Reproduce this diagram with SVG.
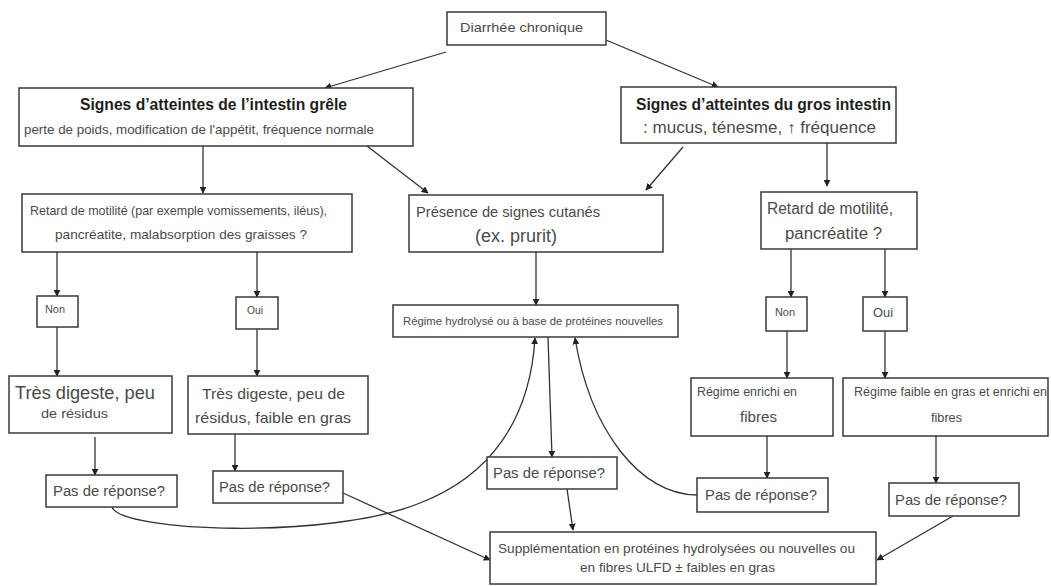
<svg xmlns="http://www.w3.org/2000/svg" width="1051" height="586" viewBox="0 0 1051 586">
<style>
.b{fill:#fff;stroke:#3a3a3a;stroke-width:1.5}
.t{font-family:"Liberation Sans",Arial,sans-serif;fill:#4a4a4a}
.h{font-family:"Liberation Sans",Arial,sans-serif;fill:#1e1e1e;font-weight:bold}
.c{fill:none;stroke:#333;stroke-width:1.3;marker-end:url(#a)}
</style>
<defs>
<marker id="a" viewBox="0 0 10 10" refX="9" refY="5" markerWidth="7" markerHeight="7" markerUnits="userSpaceOnUse" orient="auto"><path d="M0,0L10,5L0,10z" fill="#222"/></marker>
</defs>
<rect width="1051" height="586" fill="#fff"/>
<g id="connectors">
<line class="c" x1="446" y1="52" x2="325" y2="88"/>
<line class="c" x1="606" y1="40" x2="718" y2="87"/>
<line class="c" x1="203" y1="146" x2="203" y2="193"/>
<line class="c" x1="367" y1="146" x2="428" y2="193"/>
<line class="c" x1="683" y1="147" x2="646" y2="190"/>
<line class="c" x1="827" y1="143" x2="827" y2="186"/>
<line class="c" x1="57" y1="252" x2="57" y2="296"/>
<line class="c" x1="257" y1="252" x2="257" y2="297"/>
<line class="c" x1="536" y1="252" x2="536" y2="305"/>
<line class="c" x1="791" y1="249" x2="791" y2="297"/>
<line class="c" x1="885" y1="249" x2="885" y2="297"/>
<line class="c" x1="57" y1="327" x2="57" y2="376"/>
<line class="c" x1="257" y1="329" x2="257" y2="376"/>
<line class="c" x1="787" y1="331" x2="787" y2="378"/>
<line class="c" x1="885" y1="331" x2="885" y2="378"/>
<line class="c" x1="95" y1="437" x2="95" y2="475"/>
<line class="c" x1="235" y1="434" x2="235" y2="471"/>
<line class="c" x1="767" y1="436" x2="767" y2="478"/>
<line class="c" x1="936" y1="436" x2="936" y2="483"/>
<line class="c" x1="548" y1="337" x2="552" y2="457"/>
<line class="c" x1="567" y1="489" x2="573" y2="530"/>
<line class="c" x1="343" y1="493" x2="490" y2="560"/>
<line class="c" x1="953" y1="516" x2="877" y2="560"/>
<path class="c" d="M112,507 C120,532 330,540 420,503 C490,476 530,420 535,338"/>
<path class="c" d="M697,495 C640,495 590,430 575,338"/>
</g>
<g id="n1"><rect class="b" x="447" y="12" width="159" height="33"/><text class="t" x="460" y="32" font-size="13" textLength="123" lengthAdjust="spacingAndGlyphs">Diarrhée chronique</text></g>
<g id="n2"><rect class="b" x="19" y="88" width="394" height="58"/><text class="h" x="80" y="110" font-size="16" textLength="267" lengthAdjust="spacingAndGlyphs">Signes d’atteintes de l’intestin grêle</text><text class="t" x="24" y="134" font-size="13" textLength="350" lengthAdjust="spacingAndGlyphs">perte de poids, modification de l'appétit, fréquence normale</text></g>
<g id="n3"><rect class="b" x="621" y="87" width="275" height="56"/><text class="h" x="636" y="110" font-size="16" textLength="255" lengthAdjust="spacingAndGlyphs">Signes d’atteintes du gros intestin</text><text class="t" x="643" y="133" font-size="16" textLength="233" lengthAdjust="spacingAndGlyphs">: mucus, ténesme, ↑ fréquence</text></g>
<g id="n4"><rect class="b" x="22" y="194" width="330" height="58"/><text class="t" x="30" y="215" font-size="13" textLength="297" lengthAdjust="spacingAndGlyphs">Retard de motilité (par exemple vomissements, iléus),</text><text class="t" x="55" y="239" font-size="13" textLength="252" lengthAdjust="spacingAndGlyphs">pancréatite, malabsorption des graisses ?</text></g>
<g id="n5"><rect class="b" x="409" y="195" width="254" height="57"/><text class="t" x="416" y="217" font-size="15" textLength="184" lengthAdjust="spacingAndGlyphs">Présence de signes cutanés</text><text class="t" x="475" y="242" font-size="18" textLength="82" lengthAdjust="spacingAndGlyphs">(ex. prurit)</text></g>
<g id="n6"><rect class="b" x="761" y="192" width="156" height="57"/><text class="t" x="767" y="214" font-size="16" textLength="126" lengthAdjust="spacingAndGlyphs">Retard de motilité,</text><text class="t" x="785" y="239" font-size="16" textLength="97" lengthAdjust="spacingAndGlyphs">pancréatite ?</text></g>
<g id="n7"><rect class="b" x="37" y="296" width="41" height="31"/><text class="t" x="45" y="313" font-size="10" textLength="20" lengthAdjust="spacingAndGlyphs">Non</text></g>
<g id="n8"><rect class="b" x="236" y="297" width="42" height="32"/><text class="t" x="247" y="314" font-size="10" textLength="16" lengthAdjust="spacingAndGlyphs">Oui</text></g>
<g id="n9"><rect class="b" x="393" y="305" width="285" height="32"/><text class="t" x="403" y="325" font-size="11.5" textLength="260" lengthAdjust="spacingAndGlyphs">Régime hydrolysé ou à base de protéines nouvelles</text></g>
<g id="n10"><rect class="b" x="766" y="297" width="41" height="34"/><text class="t" x="775" y="316" font-size="10" textLength="20" lengthAdjust="spacingAndGlyphs">Non</text></g>
<g id="n11"><rect class="b" x="863" y="297" width="44" height="34"/><text class="t" x="873" y="317" font-size="12" textLength="20" lengthAdjust="spacingAndGlyphs">Oui</text></g>
<g id="n12"><rect class="b" x="9" y="376" width="163" height="57"/><text class="t" x="15" y="399" font-size="18" textLength="140" lengthAdjust="spacingAndGlyphs">Très digeste, peu</text><text class="t" x="41" y="418" font-size="13" textLength="67" lengthAdjust="spacingAndGlyphs">de résidus</text></g>
<g id="n13"><rect class="b" x="188" y="376" width="180" height="58"/><text class="t" x="202" y="399" font-size="15" textLength="143" lengthAdjust="spacingAndGlyphs">Très digeste, peu de</text><text class="t" x="195" y="423" font-size="15" textLength="156" lengthAdjust="spacingAndGlyphs">résidus, faible en gras</text></g>
<g id="n14"><rect class="b" x="691" y="378" width="142" height="58"/><text class="t" x="697" y="396" font-size="12" textLength="100" lengthAdjust="spacingAndGlyphs">Régime enrichi en</text><text class="t" x="740" y="422" font-size="15" textLength="37" lengthAdjust="spacingAndGlyphs">fibres</text></g>
<g id="n15"><rect class="b" x="843" y="378" width="205" height="58"/><text class="t" x="854" y="396" font-size="12" textLength="193" lengthAdjust="spacingAndGlyphs">Régime faible en gras et enrichi en</text><text class="t" x="931" y="422" font-size="12" textLength="31" lengthAdjust="spacingAndGlyphs">fibres</text></g>
<g id="n16"><rect class="b" x="46" y="475" width="131" height="32"/><text class="t" x="53" y="496" font-size="14" textLength="112" lengthAdjust="spacingAndGlyphs">Pas de réponse?</text></g>
<g id="n17"><rect class="b" x="213" y="471" width="130" height="32"/><text class="t" x="219" y="492" font-size="14" textLength="111" lengthAdjust="spacingAndGlyphs">Pas de réponse?</text></g>
<g id="n18"><rect class="b" x="487" y="457" width="130" height="32"/><text class="t" x="493" y="478" font-size="14" textLength="112" lengthAdjust="spacingAndGlyphs">Pas de réponse?</text></g>
<g id="n19"><rect class="b" x="697" y="478" width="131" height="34"/><text class="t" x="705" y="500" font-size="14" textLength="112" lengthAdjust="spacingAndGlyphs">Pas de réponse?</text></g>
<g id="n20"><rect class="b" x="889" y="483" width="130" height="33"/><text class="t" x="895" y="505" font-size="15" textLength="112" lengthAdjust="spacingAndGlyphs">Pas de réponse?</text></g>
<g id="n21"><rect class="b" x="490" y="532" width="386" height="52"/><text class="t" x="498" y="553" font-size="13" textLength="357" lengthAdjust="spacingAndGlyphs">Supplémentation en protéines hydrolysées ou nouvelles ou</text><text class="t" x="580" y="572" font-size="13" textLength="195" lengthAdjust="spacingAndGlyphs">en fibres ULFD ± faibles en gras</text></g>
</svg>
